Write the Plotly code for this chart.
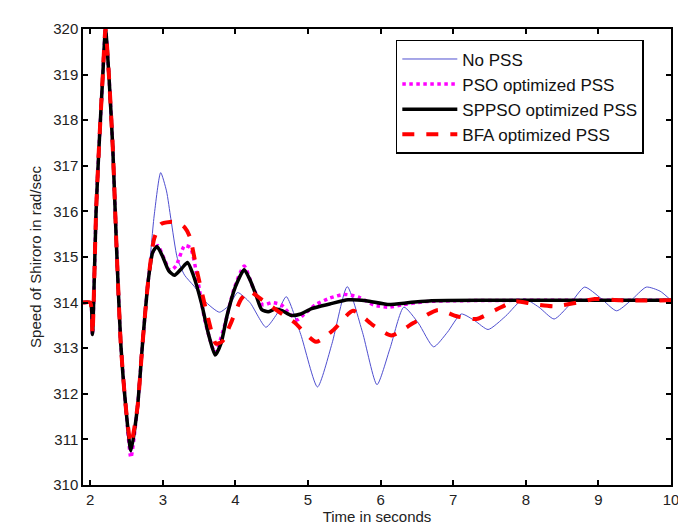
import plotly.graph_objects as go

# Time (s) and speed (rad/sec)
t_common = [1.9, 2.0, 2.03, 2.055, 2.08, 2.12, 2.17, 2.21, 2.26, 2.31, 2.36, 2.42, 2.49, 2.56, 2.65, 2.72, 2.80]
v_common = [314.0, 314.0, 313.3, 314.5, 316.0, 317.4, 318.9, 320.0, 318.9, 317.4, 315.3, 313.1, 311.7, 310.75, 311.7, 313.1, 314.5]

t_nopss = t_common + [2.88, 2.97, 3.05, 3.11, 3.2, 3.3, 3.43, 3.6, 3.78, 3.92, 4.03, 4.2, 4.42, 4.57, 4.70, 4.9, 5.13, 5.33, 5.54, 5.75, 5.95, 6.13, 6.32, 6.52, 6.73, 6.92, 7.11, 7.3, 7.48, 7.72, 7.97, 8.18, 8.39, 8.6, 8.81, 9.03, 9.25, 9.45, 9.66, 9.85, 10.0]
v_nopss = v_common + [315.9, 316.85, 316.45, 315.84, 314.97, 314.6, 314.36, 314.0, 313.79, 313.95, 314.22, 314.0, 313.46, 313.75, 314.13, 313.3, 312.15, 313.1, 314.35, 313.35, 312.2, 313.0, 313.9, 313.55, 313.03, 313.35, 313.75, 313.6, 313.41, 313.7, 314.08, 313.9, 313.64, 313.95, 314.34, 314.1, 313.82, 314.05, 314.34, 314.25, 314.05]

t_pso = t_common + [2.86, 2.93, 3.02, 3.1, 3.18, 3.3, 3.38, 3.48, 3.58, 3.72, 3.85, 3.98, 4.12, 4.25, 4.38, 4.5, 4.63, 4.75, 4.85, 4.95, 5.1, 5.3, 5.5, 5.7, 5.9, 6.1, 6.3, 6.6, 7.0, 8.0, 10.0]
v_pso = v_common[:13] + [310.6] + v_common[14:] + [315.1, 315.25, 314.95, 314.7, 314.8, 315.25, 315.2, 314.5, 313.6, 312.9, 313.5, 314.3, 314.8, 314.3, 313.95, 314.0, 313.95, 313.75, 313.62, 313.75, 313.95, 314.1, 314.18, 314.12, 313.95, 313.9, 313.95, 314.02, 314.04, 314.05, 314.05]

t_sppso = t_common + [2.86, 2.92, 3.0, 3.08, 3.16, 3.26, 3.34, 3.42, 3.53, 3.63, 3.72, 3.8, 3.89, 4.0, 4.12, 4.2, 4.28, 4.36, 4.45, 4.55, 4.65, 4.77, 4.9, 5.05, 5.3, 5.55, 5.8, 6.1, 6.4, 6.7, 7.5, 8.5, 10.0]
v_sppso = v_common + [315.1, 315.23, 315.0, 314.7, 314.6, 314.75, 314.88, 314.6, 314.0, 313.3, 312.85, 313.1, 313.75, 314.35, 314.72, 314.5, 314.18, 313.85, 313.8, 313.86, 313.82, 313.72, 313.75, 313.87, 313.97, 314.06, 314.04, 313.96, 314.0, 314.04, 314.05, 314.05, 314.05]

t_bfa = t_common + [2.88, 2.97, 3.1, 3.2, 3.3, 3.37, 3.48, 3.62, 3.73, 3.82, 3.95, 4.08, 4.19, 4.35, 4.58, 4.81, 5.11, 5.35, 5.62, 5.9, 6.15, 6.45, 6.79, 7.05, 7.32, 7.6, 7.85, 8.1, 8.40, 8.7, 8.95, 9.3, 10.0]
v_bfa = v_common[:13] + [310.9] + v_common[14:] + [315.4, 315.72, 315.77, 315.76, 315.65, 315.45, 314.62, 313.68, 313.1, 313.15, 313.6, 314.08, 314.25, 314.08, 313.82, 313.57, 313.14, 313.4, 313.82, 313.5, 313.28, 313.55, 313.84, 313.7, 313.64, 313.85, 314.03, 313.97, 313.92, 314.0, 314.08, 314.05, 314.05]

x_ticks = [2, 3, 4, 5, 6, 7, 8, 9, 10]
y_ticks = [310, 311, 312, 313, 314, 315, 316, 317, 318, 319, 320]

FONT = "Liberation Sans, Arial, sans-serif"

fig = go.Figure()
fig.add_trace(go.Scatter(x=t_nopss, y=v_nopss, mode="lines", name="No PSS", legendgroup="a",
                         line=dict(color="#4f4fd0", width=1, shape="spline", smoothing=0.6)))
fig.add_trace(go.Scatter(x=t_pso, y=v_pso, mode="lines", name="PSO optimized PSS", legendgroup="b",
                         line=dict(color="#ff00ff", width=3.5, dash="dot", shape="spline", smoothing=0.6)))
fig.add_trace(go.Scatter(x=t_sppso, y=v_sppso, mode="lines", name="SPPSO optimized PSS", legendgroup="c",
                         line=dict(color="#000000", width=3.5, shape="spline", smoothing=0.6)))
fig.add_trace(go.Scatter(x=t_bfa, y=v_bfa, mode="lines", name="BFA optimized PSS", legendgroup="d",
                         line=dict(color="#ff0000", width=4, dash="dash", shape="spline", smoothing=0.6)))

fig.update_layout(
    width=686, height=527,
    margin=dict(l=75, r=23, t=14, b=50),
    paper_bgcolor="white", plot_bgcolor="white",
    font=dict(family=FONT, size=14, color="#222222"),
    showlegend=True,
    legend=dict(x=0.532, y=0.976, xanchor="left", yanchor="top",
                bgcolor="white", bordercolor="black", borderwidth=1.5,
                font=dict(family=FONT, size=17, color="#111111"),
                itemwidth=55, tracegroupgap=8, traceorder="normal"),
    xaxis=dict(range=[1.9, 10], tickvals=x_ticks, ticktext=[str(v) for v in x_ticks],
               showgrid=False, zeroline=False, showline=True, linecolor="black", linewidth=1.5,
               mirror="ticks", ticks="inside", ticklen=5, tickcolor="black", tickwidth=1.5,
               tickfont=dict(size=15),
               title=dict(text="Time in seconds", standoff=4, font=dict(size=15))),
    yaxis=dict(range=[310, 320], tickvals=y_ticks, ticktext=[str(v) for v in y_ticks],
               showgrid=False, zeroline=False, showline=True, linecolor="black", linewidth=1.5,
               mirror="ticks", ticks="inside", ticklen=5, tickcolor="black", tickwidth=1.5,
               tickfont=dict(size=15),
               title=dict(text="Speed of Shiroro in rad/sec", standoff=8, font=dict(size=15))),
)

fig.write_html("out.html")
